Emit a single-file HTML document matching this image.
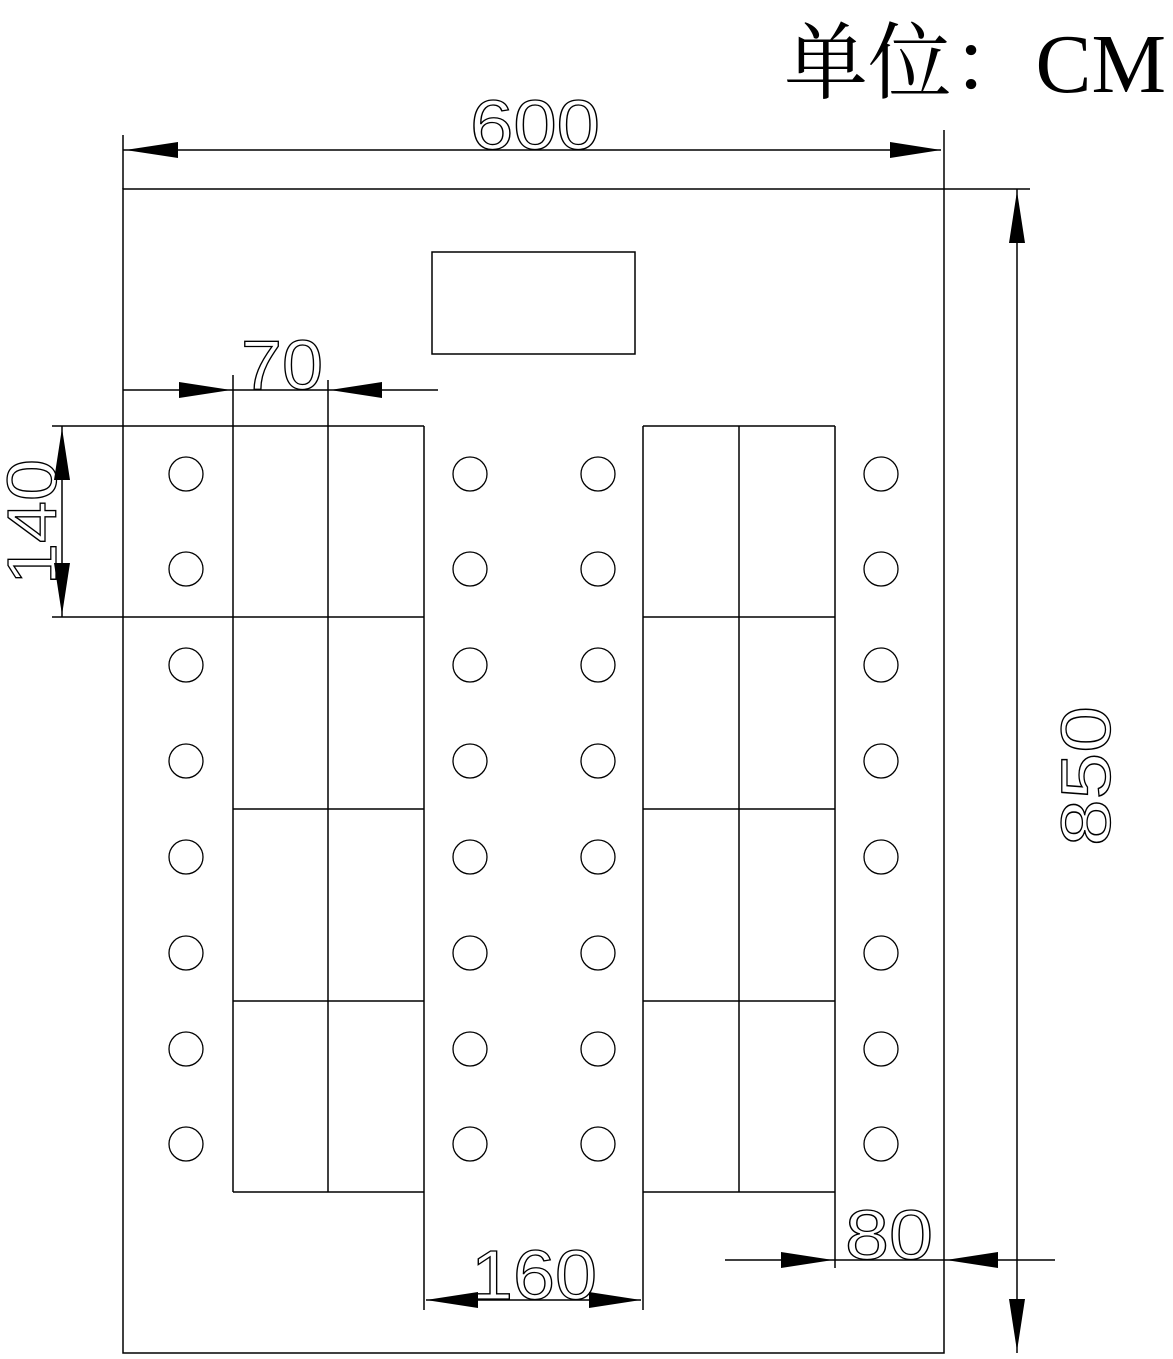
<!DOCTYPE html>
<html><head><meta charset="utf-8"><style>
html,body{margin:0;padding:0;background:#fff;}
svg{display:block;}
.t{font-family:"Liberation Sans","DejaVu Sans",sans-serif;fill:none;stroke:#000;stroke-width:1.3;}
</style></head><body>
<svg width="1173" height="1359" viewBox="0 0 1173 1359" xmlns="http://www.w3.org/2000/svg">
<g stroke="#000" stroke-width="1.5" fill="none">
<rect x="123" y="189" width="821" height="1164"/>
<rect x="432" y="252" width="203" height="102"/>
<!-- top dim -->
<line x1="123" y1="150" x2="941" y2="150"/>
<line x1="123" y1="135" x2="123" y2="189"/>
<line x1="944" y1="130" x2="944" y2="189"/>
<!-- left block -->
<line x1="52" y1="426" x2="424" y2="426"/>
<line x1="52" y1="617" x2="424" y2="617"/>
<line x1="233" y1="426" x2="233" y2="1192"/>
<line x1="328" y1="426" x2="328" y2="1192"/>
<line x1="424" y1="426" x2="424" y2="1310"/>
<line x1="233" y1="809" x2="424" y2="809"/>
<line x1="233" y1="1001" x2="424" y2="1001"/>
<line x1="233" y1="1192" x2="424" y2="1192"/>
<!-- right block -->
<line x1="643" y1="426" x2="835" y2="426"/>
<line x1="643" y1="617" x2="835" y2="617"/>
<line x1="643" y1="809" x2="835" y2="809"/>
<line x1="643" y1="1001" x2="835" y2="1001"/>
<line x1="643" y1="1192" x2="835" y2="1192"/>
<line x1="643" y1="426" x2="643" y2="1310"/>
<line x1="739" y1="426" x2="739" y2="1192"/>
<line x1="835" y1="426" x2="835" y2="1268"/>
<!-- 70 dim -->
<line x1="123" y1="390" x2="438" y2="390"/>
<line x1="233" y1="375" x2="233" y2="426"/>
<line x1="328" y1="380" x2="328" y2="426"/>
<!-- 140 dim -->
<line x1="62" y1="426" x2="62" y2="617"/>
<!-- 850 dim -->
<line x1="944" y1="189" x2="1030" y2="189"/>
<line x1="1017" y1="189" x2="1017" y2="1353"/>
<!-- 160 dim -->
<line x1="426" y1="1300" x2="641" y2="1300"/>
<!-- 80 dim -->
<line x1="725" y1="1260" x2="1055" y2="1260"/>
</g>
<g fill="#000">
<polygon points="125,150 178,142 178,158"/>
<polygon points="941,150 890,142 890,158"/>
<polygon points="231,390 179,382 179,398"/>
<polygon points="330,390 382,382 382,398"/>
<polygon points="62,428 54,480 70,480"/>
<polygon points="62,615 54,563 70,563"/>
<polygon points="1017,191 1009,243 1025,243"/>
<polygon points="1017,1351 1009,1299 1025,1299"/>
<polygon points="426,1300 478,1292 478,1308"/>
<polygon points="641,1300 589,1292 589,1308"/>
<polygon points="833,1260 781,1252 781,1268"/>
<polygon points="946,1260 998,1252 998,1268"/>
</g>
<g stroke="#000" stroke-width="1.3" fill="none">
<g id="col">
<circle cx="186" cy="474" r="17"/><circle cx="186" cy="569" r="17"/><circle cx="186" cy="665" r="17"/><circle cx="186" cy="761" r="17"/>
<circle cx="186" cy="857" r="17"/><circle cx="186" cy="953" r="17"/><circle cx="186" cy="1049" r="17"/><circle cx="186" cy="1144" r="17"/>
</g>
<use href="#col" x="284"/>
<use href="#col" x="412"/>
<use href="#col" x="695"/>
</g>
<text class="t" x="535" y="149" font-size="70" text-anchor="middle" textLength="130" lengthAdjust="spacingAndGlyphs">600</text>
<text class="t" x="282" y="389" font-size="70" text-anchor="middle" textLength="82" lengthAdjust="spacingAndGlyphs">70</text>
<text class="t" x="534" y="1299" font-size="70" text-anchor="middle" textLength="126" lengthAdjust="spacingAndGlyphs">160</text>
<text class="t" x="889" y="1259" font-size="70" text-anchor="middle" textLength="88" lengthAdjust="spacingAndGlyphs">80</text>
<text class="t" font-size="70" text-anchor="middle" textLength="126" lengthAdjust="spacingAndGlyphs" transform="translate(56,522) rotate(-90)">140</text>
<text class="t" font-size="70" text-anchor="middle" textLength="140" lengthAdjust="spacingAndGlyphs" transform="translate(1110,776) rotate(-90)">850</text>
<text x="1166" y="92" font-size="84" text-anchor="end" fill="#000" font-family="'Liberation Serif','Noto Serif CJK SC',serif" textLength="382" lengthAdjust="spacingAndGlyphs">单位：CM</text>
</svg>
</body></html>
